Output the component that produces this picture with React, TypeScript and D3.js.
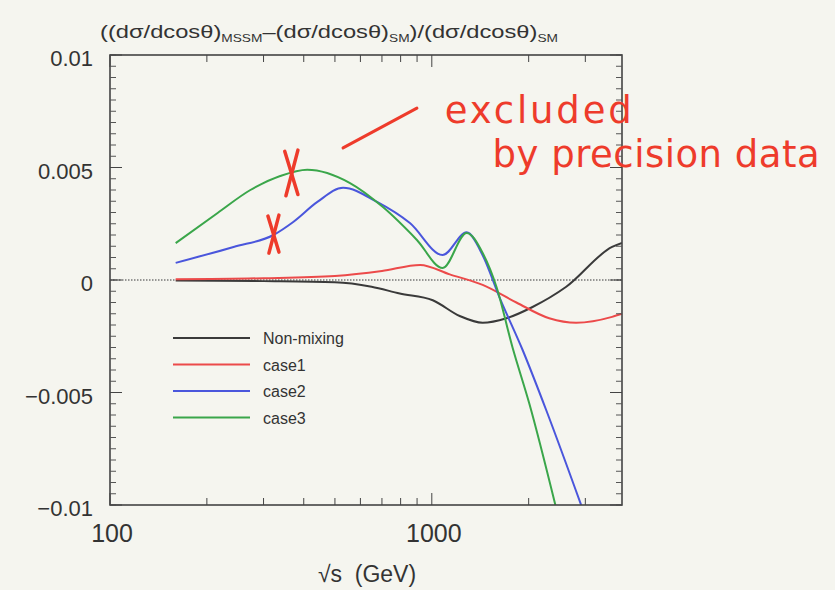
import React from "react";
import * as d3 from "d3";

const W = 835;
const H = 590;

// axis ticks
const xMajorTicks = [100, 1000];
const xMinorTicks = [200, 300, 400, 500, 600, 700, 800, 900, 2000, 3000];
const yMajorTicks = [0.01, 0.005, 0, -0.005, -0.01];
const yTickLabels = ["0.01", "0.005", "0", "\u22120.005", "\u22120.01"];

// series (sqrt(s) in GeV, relative deviation)
const nonMixingGeV = [160, 300, 500, 650, 795, 1007, 1221, 1439, 1706, 2056, 2617, 3633, 3900];
const nonMixingVal = [-0.00002, -0.00005, -0.0001, -0.0003, -0.0006, -0.0009, -0.0016, -0.0019, -0.0017, -0.0012, -0.0003, 0.00147, 0.00165];

const case1GeV = [160, 300, 500, 700, 920, 1137, 1439, 1832, 2317, 2811, 3633, 3900];
const case1Val = [0.00003, 0.00008, 0.00018, 0.0004, 0.00067, 0.00025, -0.00022, -0.001, -0.0017, -0.0019, -0.00164, -0.0015];

const case2GeV = [160, 242, 322, 371, 441, 530, 676, 855, 1081, 1283, 1439, 1622, 1914, 2270, 2911];
const case2Val = [0.00076, 0.00147, 0.002, 0.00258, 0.00347, 0.0041, 0.00347, 0.00253, 0.00111, 0.00212, 0.0011, -0.00076, -0.0031, -0.0058, -0.01];

const case3GeV = [160, 216, 273, 338, 410, 557, 705, 899, 1081, 1283, 1439, 1588, 1782, 2010, 2421];
const case3Val = [0.00164, 0.00298, 0.004, 0.00462, 0.0049, 0.00431, 0.00324, 0.00178, 0.00053, 0.00209, 0.0012, -0.0003, -0.003, -0.0055, -0.01];

const seriesNames = ["Non-mixing", "case1", "case2", "case3"];
const seriesColors = ["#3a3a3a", "#ec4a4a", "#4a56dc", "#3aa64a"];
const seriesGeV = [nonMixingGeV, case1GeV, case2GeV, case3GeV];
const seriesVal = [nonMixingVal, case1Val, case2Val, case3Val];

// hand annotations (data coordinates)
const crossCentersGeV = [366, 322];
const crossCentersVal = [0.00476, 0.00204];
const crossHalfSizes = [12, 10];
const arrowGeV = [530, 899];
const arrowVal = [0.00587, 0.00764];
const noteLines = ["excluded", "by precision data"];
const noteGeV = [1097, 1545];
const noteVal = [0.00698, 0.00502];
const noteWidths = [187, 327];

const margin = { left: 110, right: 213, top: 55, bottom: 85 };

export default function App() {
  const x = d3.scaleLog().domain([100, 3900]).range([margin.left, W - margin.right]);
  const y = d3.scaleLinear().domain([-0.01, 0.01]).range([H - margin.bottom, margin.top]);
  const x0 = margin.left, x1 = W - margin.right, y0 = margin.top, y1 = H - margin.bottom;

  const line = d3
    .line<[number, number]>()
    .x((d) => x(d[0]))
    .y((d) => y(d[1]))
    .curve(d3.curveMonotoneX);

  const yMinor = d3.range(-0.01, 0.01001, 0.0005);
  const font = "'Liberation Sans', Arial, Helvetica, sans-serif";

  return (
    <svg width={W} height={H} style={{ position: "fixed", left: 0, top: 0 }} fontFamily={font}>
      <defs>
        <clipPath id="plot">
          <rect x={x0} y={y0 - 2} width={x1 - x0} height={y1 - y0 + 2} />
        </clipPath>
      </defs>
      <rect width={W} height={H} fill="#f5f5ef" />

      {/* title */}
      <text x={100} y={38} fontSize={19} fill="#333" textLength={458} lengthAdjust="spacingAndGlyphs">
        ((dσ/dcosθ)<tspan fontSize={11} dy={4}>MSSM</tspan>
        <tspan dy={-4}>–(dσ/dcosθ)</tspan>
        <tspan fontSize={11} dy={4}>SM</tspan>
        <tspan dy={-4}>)/(dσ/dcosθ)</tspan>
        <tspan fontSize={11} dy={4}>SM</tspan>
      </text>

      {/* zero dotted line */}
      <line x1={x0} x2={x1} y1={y(0)} y2={y(0)} stroke="#777" strokeWidth={1.6} strokeDasharray="1.5,1.5" />

      {/* curves */}
      <g clipPath="url(#plot)">
        {seriesGeV.map((g, i) => (
          <path
            key={i}
            d={line(g.map((v, j) => [v, seriesVal[i][j]] as [number, number])) || ""}
            fill="none"
            stroke={seriesColors[i]}
            strokeWidth={2}
          />
        ))}
      </g>

      {/* frame */}
      <rect x={x0} y={y0} width={x1 - x0} height={y1 - y0} fill="none" stroke="#444" strokeWidth={1.6} />

      {/* x ticks */}
      {xMajorTicks.map((t) => (
        <g key={"xm" + t}>
          <line x1={x(t)} x2={x(t)} y1={y1} y2={y1 - 12} stroke="#444" />
          <line x1={x(t)} x2={x(t)} y1={y0} y2={y0 + 12} stroke="#444" />
          <text x={x(t) + 2} y={542} fontSize={25} textAnchor="middle" fill="#333">{t}</text>
        </g>
      ))}
      {xMinorTicks.map((t) => (
        <g key={"xn" + t}>
          <line x1={x(t)} x2={x(t)} y1={y1} y2={y1 - 7} stroke="#444" />
          <line x1={x(t)} x2={x(t)} y1={y0} y2={y0 + 7} stroke="#444" />
        </g>
      ))}

      {/* y ticks */}
      {yMinor.map((t, i) => (
        <g key={"yn" + i}>
          <line x1={x0} x2={x0 + 6} y1={y(t)} y2={y(t)} stroke="#555" />
          <line x1={x1} x2={x1 - 6} y1={y(t)} y2={y(t)} stroke="#555" />
        </g>
      ))}
      {yMajorTicks.map((t, i) => (
        <g key={"ym" + i}>
          <line x1={x0} x2={x0 + 12} y1={y(t)} y2={y(t)} stroke="#444" />
          <line x1={x1} x2={x1 - 12} y1={y(t)} y2={y(t)} stroke="#444" />
          <text x={93} y={y(t) + 11} fontSize={22} textAnchor="end" fill="#333">{yTickLabels[i]}</text>
        </g>
      ))}

      {/* x axis title */}
      <text x={367} y={582} fontSize={23} textAnchor="middle" fill="#333">{"√s\u00a0\u00a0(GeV)"}</text>

      {/* legend */}
      {seriesNames.map((n, i) => (
        <g key={n}>
          <line x1={173} x2={250} y1={338 + i * 26.5} y2={338 + i * 26.5} stroke={seriesColors[i]} strokeWidth={2} />
          <text x={263} y={338 + i * 26.5 + 6} fontSize={16} fill="#333">{n}</text>
        </g>
      ))}

      {/* hand annotations */}
      {crossCentersGeV.map((g, i) => {
        const cx = x(g), cy = y(crossCentersVal[i]), s = crossHalfSizes[i];
        return (
          <g key={"x" + i} stroke="#ee3b2b" strokeWidth={3.5} strokeLinecap="round">
            <line x1={cx - s * 0.55} y1={cy - s * 1.8} x2={cx + s * 0.55} y2={cy + s * 1.8} />
            <line x1={cx + s * 0.55} y1={cy - s * 1.9} x2={cx - s * 0.45} y2={cy + s * 1.9} />
          </g>
        );
      })}
      <line
        x1={x(arrowGeV[0])} y1={y(arrowVal[0])} x2={x(arrowGeV[1])} y2={y(arrowVal[1])}
        stroke="#ee3b2b" strokeWidth={3} strokeLinecap="round"
      />
      {noteLines.map((t, i) => (
        <text
          key={t}
          x={x(noteGeV[i])}
          y={y(noteVal[i])}
          fontSize={37}
          fill="#ee3b2b"
          fontFamily="'DejaVu Sans', sans-serif"
          textLength={noteWidths[i]}
          lengthAdjust="spacing"
        >
          {t}
        </text>
      ))}
    </svg>
  );
}
